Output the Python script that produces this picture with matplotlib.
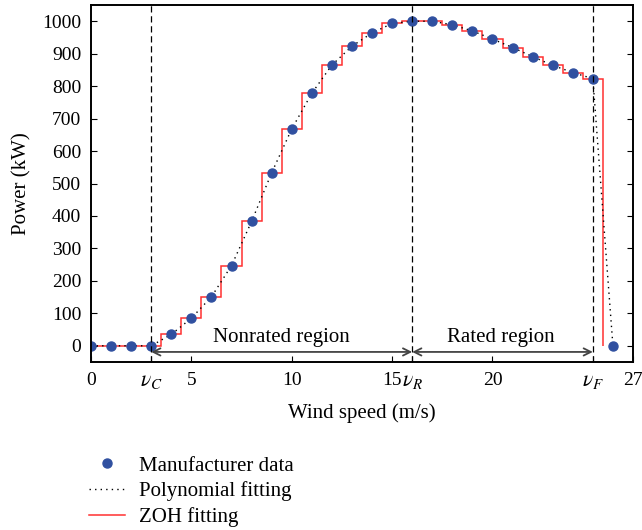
import numpy as np
import matplotlib
matplotlib.use("Agg")
import matplotlib.pyplot as plt

plt.rcParams['font.family'] = ['Liberation Serif', 'DejaVu Serif']
plt.rcParams['mathtext.fontset'] = 'stix'

wind_speed = [0, 1, 2, 3, 4, 5, 6, 7, 8, 9, 10, 11, 12, 13, 14, 15, 16, 17,
              18, 19, 20, 21, 22, 23, 24, 25, 26]
power = [0, 0, 0, 0, 35, 85, 151, 247, 383, 533, 668, 778, 865, 923, 964, 993,
         1000, 1000, 989, 970, 945, 919, 891, 864, 842, 823, 0]
zoh_edges = [0, 3.5, 4.5, 5.5, 6.5, 7.5, 8.5, 9.5, 10.5, 11.5, 12.5, 13.5, 14.5,
             15.5, 16.5, 17.5, 18.5, 19.5, 20.5, 21.5, 22.5, 23.5, 24.5, 25.5]
zoh_values = [0, 35, 85, 151, 247, 383, 533, 668, 778, 865, 923, 964, 993,
              1000, 1000, 989, 970, 945, 919, 891, 864, 842, 823]
v_c, v_r, v_f = 3, 16, 25
xticks = [0, 5, 10, 15, 20, 27]
special_ticks = [v_c, v_r, v_f]
special_labels = [r'$\nu_C$', r'$\nu_R$', r'$\nu_F$']

fig = plt.figure(figsize=(6.42, 5.30), dpi=100)
ax = fig.add_axes([91/642, 1-362/530, (633-91)/642, (362-5)/530])

zoh = ax.stairs(zoh_values, zoh_edges, baseline=0, color='#ff3030', lw=1.1,
                label='ZOH fitting')
poly, = ax.plot(wind_speed, power, color='black', ls=(0, (1, 3)), lw=1.0,
                label='Polynomial fitting')
pts, = ax.plot(wind_speed, power, 'o', color='#3050a0', ms=6.5, ls='none',
               label='Manufacturer data')

for v in special_ticks:
    ax.axvline(v, color='black', ls=(0, (5, 3)), lw=0.9)

arrow_y = -19
for a, b in [(v_c, v_r), (v_r, v_f)]:
    ax.annotate('', xy=(b, arrow_y), xytext=(a, arrow_y),
                arrowprops=dict(arrowstyle='<->', color='#444444', lw=1.3,
                                shrinkA=0, shrinkB=0, mutation_scale=13))
ax.text(9.5, 26, 'Nonrated region', ha='center', va='center', fontsize=15)
ax.text(20.4, 26, 'Rated region', ha='center', va='center', fontsize=15)

ax.set_xlim(0, 27)
ax.set_ylim(-50, 1050)
ax.set_xticks(xticks + special_ticks)
ax.set_xticklabels([str(t) for t in xticks] + special_labels)
ax.set_yticks(range(0, 1001, 100))
ax.tick_params(direction='in', right=True, labelsize=14, width=0.8, length=4)
ax.tick_params(axis='y', pad=7)
ax.tick_params(axis='x', pad=7)
for lab in ax.get_xticklabels()[-3:]:
    lab.set_fontsize(15.5)
for s in ax.spines.values():
    s.set_linewidth(1.4)

ax.set_xlabel('Wind speed (m/s)', fontsize=15, labelpad=9)
ax.set_ylabel('Power (kW)', fontsize=15, labelpad=8)

fig.legend(handles=[pts, poly, zoh],
           labels=['Manufacturer data', 'Polynomial fitting', 'ZOH fitting'],
           loc='upper left', bbox_to_anchor=(89/642, 1-456/530), frameon=False,
           fontsize=15, handlelength=1.75, handletextpad=0.65, labelspacing=0.28,
           borderaxespad=0, borderpad=0)

fig.savefig('out.png', dpi=100)
